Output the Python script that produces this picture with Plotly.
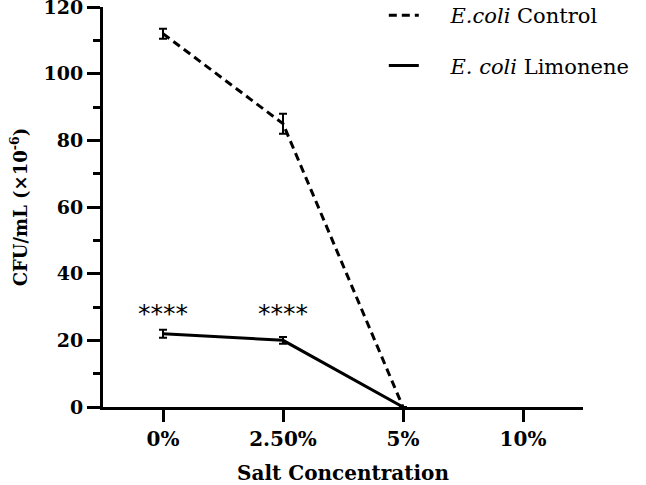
import plotly.graph_objects as go

categories = ["0%", "2.50%", "5%", "10%"]
control_vals = [112, 85, 0, None]
control_err = [1.5, 3.0, 0, None]
limonene_vals = [22, 20, 0, None]
limonene_err = [1.2, 1.0, 0, None]
star_cats = ["0%", "2.50%"]
star_vals = [27.5, 27.5]
star_text = ["****", "****"]
y_ticks = [0, 20, 40, 60, 80, 100, 120]
y_minor = [10, 30, 50, 70, 90, 110]

SERIF = "DejaVu Serif"
PAD = "\u00a0\u00a0\u00a0\u00a0"

fig = go.Figure()
fig.add_trace(go.Scatter(
    x=categories, y=control_vals, mode="lines",
    name=PAD + "<i>E.coli</i> Control", legendgroup="a",
    line=dict(color="black", width=3, dash="8px,5px"),
    error_y=dict(type="data", array=control_err, visible=True,
                 color="black", thickness=2, width=4),
    connectgaps=False, cliponaxis=False,
))
fig.add_trace(go.Scatter(
    x=categories, y=limonene_vals, mode="lines",
    name=PAD + "<i>E. coli</i> Limonene", legendgroup="b",
    line=dict(color="black", width=3),
    error_y=dict(type="data", array=limonene_err, visible=True,
                 color="black", thickness=2, width=4),
    connectgaps=False, cliponaxis=False,
))
fig.add_trace(go.Scatter(
    x=star_cats, y=star_vals, mode="text", text=star_text,
    textposition="middle center", showlegend=False,
    textfont=dict(family="DejaVu Sans", size=25, color="black"),
    cliponaxis=False,
))

fig.update_layout(
    width=646, height=485,
    margin=dict(l=103, r=63, t=7, b=78, autoexpand=False),
    paper_bgcolor="white", plot_bgcolor="white",
    showlegend=True,
    legend=dict(x=0.585, y=1.03, xanchor="left", yanchor="top",
                font=dict(family=SERIF, size=21, color="black"),
                tracegroupgap=20, bgcolor="rgba(0,0,0,0)"),
    xaxis=dict(
        type="category", categoryorder="array", categoryarray=categories,
        range=[-0.5, 3.5], showline=True, linewidth=3, linecolor="black",
        ticks="outside", ticklen=12, tickwidth=3, tickcolor="black",
        showgrid=False, zeroline=False, automargin=True,
        tickfont=dict(family=SERIF, size=20, color="black", weight="bold"),
        title=dict(text="<b>Salt Concentration</b>", standoff=27,
                   font=dict(family=SERIF, size=20, color="black")),
    ),
    yaxis=dict(
        range=[0, 120], tickmode="array", tickvals=y_ticks,
        showline=True, linewidth=3, linecolor="black",
        ticks="outside", ticklen=13, tickwidth=3, tickcolor="black",
        ticklabeloverflow="allow",
        minor=dict(tickmode="array", tickvals=y_minor,
                   ticks="outside", ticklen=7,
                   tickwidth=3, tickcolor="black"),
        showgrid=False, zeroline=False, automargin=True,
        tickfont=dict(family=SERIF, size=19, color="black", weight="bold"),
        title=dict(text="<b>CFU/mL (×10<sup>-6</sup>)</b>", standoff=12,
                   font=dict(family=SERIF, size=18, color="black")),
    ),
)

fig.write_html("out.html", config={"displayModeBar": False},
               post_script="document.body.style.margin='0px';document.body.style.overflow='hidden';")
